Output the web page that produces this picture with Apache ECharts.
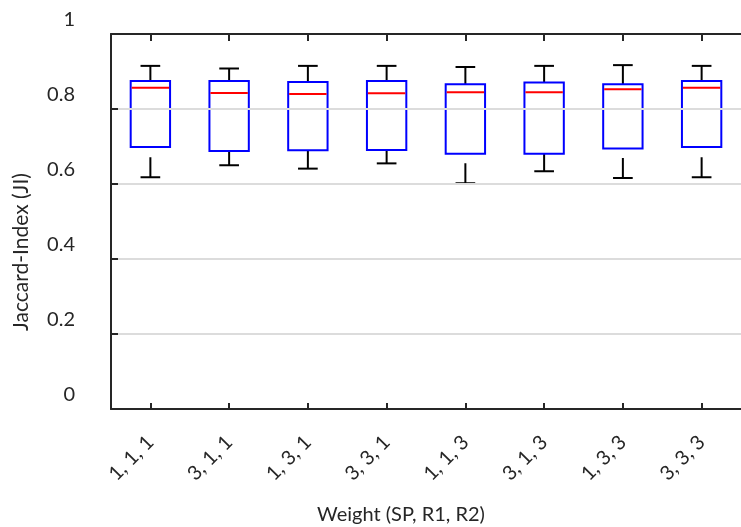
<!DOCTYPE html>
<html>
<head>
<meta charset="utf-8">
<script src="https://cdn.jsdelivr.net/npm/echarts@6/dist/echarts.min.js"></script>
<style>html,body{margin:0;padding:0;background:#fff}#c{width:741px;height:527px}</style>
</head>
<body>
<div id="c"></div>
<script>
var categories = ['1, 1, 1', '3, 1, 1', '1, 3, 1', '3, 3, 1', '1, 1, 3', '3, 1, 3', '1, 3, 3', '3, 3, 3'];
var whiskerHigh = [0.915, 0.908, 0.915, 0.915, 0.912, 0.915, 0.917, 0.915];
var q3 = [0.875, 0.875, 0.872, 0.875, 0.866, 0.871, 0.866, 0.875];
var median = [0.857, 0.843, 0.840, 0.842, 0.845, 0.845, 0.853, 0.857];
var q1 = [0.699, 0.688, 0.690, 0.691, 0.681, 0.681, 0.695, 0.699];
var whiskerLow = [0.618, 0.650, 0.641, 0.655, 0.602, 0.634, 0.616, 0.618];
var yTicks = [0, 0.2, 0.4, 0.6, 0.8, 1];
var xTitle = 'Weight (SP, R1, R2)';
var yTitle = 'Jaccard-Index (JI)';

var FONT = 'Lato, Carlito, "Open Sans", sans-serif';
var TXT = '#262626';
var data = categories.map(function (c, i) {
  return [i, whiskerLow[i], q1[i], median[i], q3[i], whiskerHigh[i]];
});

function renderItem(params, api) {
  var i = api.value(0);
  var band = api.size([1, 0])[0];
  var bw = band * 0.5, cw = band * 0.25;
  var pLo = api.coord([i, api.value(1)]);
  var pQ1 = api.coord([i, api.value(2)]);
  var pMed = api.coord([i, api.value(3)]);
  var pQ3 = api.coord([i, api.value(4)]);
  var pHi = api.coord([i, api.value(5)]);
  var x = pMed[0];
  var wStyle = { stroke: '#000', lineWidth: 2, lineDash: [20, 10], fill: null };
  var cStyle = { stroke: '#000', lineWidth: 2, fill: null };
  return {
    type: 'group',
    children: [
      { type: 'line', shape: { x1: x, y1: pHi[1], x2: x, y2: pQ3[1] }, style: wStyle },
      { type: 'line', shape: { x1: x, y1: pLo[1], x2: x, y2: pQ1[1] }, style: wStyle },
      { type: 'line', shape: { x1: x - cw / 2, y1: pHi[1], x2: x + cw / 2, y2: pHi[1] }, style: cStyle },
      { type: 'line', shape: { x1: x - cw / 2, y1: pLo[1], x2: x + cw / 2, y2: pLo[1] }, style: cStyle },
      { type: 'rect', shape: { x: x - bw / 2, y: pQ3[1], width: bw, height: pQ1[1] - pQ3[1] },
        style: { stroke: '#0000ff', lineWidth: 2, fill: null } },
      { type: 'line', shape: { x1: x - bw / 2 + 1, y1: pMed[1], x2: x + bw / 2 - 1, y2: pMed[1] },
        style: { stroke: '#ff0000', lineWidth: 2 } }
    ]
  };
}

var tickStyle = { color: TXT, width: 2 };
var chart = echarts.init(document.getElementById('c'), null, { renderer: 'canvas' });
chart.setOption({
  animation: false,
  backgroundColor: '#fff',
  grid: { left: 111, top: 34, width: 639, height: 375, containLabel: false },
  xAxis: [{
    type: 'category', data: categories, position: 'bottom', z: 5,
    axisLine: { show: true, onZero: false, lineStyle: { color: TXT, width: 2 } },
    axisTick: { show: true, inside: true, alignWithLabel: true, interval: 0, length: 6, lineStyle: tickStyle },
    axisLabel: { rotate: 45, margin: 30, color: TXT, fontFamily: FONT, fontSize: 20, interval: 0 },
    splitLine: { show: false }
  }, {
    type: 'category', data: categories, position: 'top', z: 5,
    axisLine: { show: true, onZero: false, lineStyle: { color: TXT, width: 2 } },
    axisTick: { show: true, inside: true, alignWithLabel: true, interval: 0, length: 7, lineStyle: tickStyle },
    axisLabel: { show: false },
    splitLine: { show: false }
  }],
  yAxis: {
    type: 'value', min: 0, max: 1, interval: 0.2, z: 5,
    axisLine: { show: true, lineStyle: { color: TXT, width: 2 } },
    axisTick: { show: true, inside: true, length: 7, lineStyle: tickStyle },
    axisLabel: {
      color: TXT, fontFamily: FONT, fontSize: 20, margin: 36,
      verticalAlign: 'bottom', lineHeight: 28,
      formatter: function (v) {
        for (var k = 0; k < yTicks.length; k++) if (Math.abs(yTicks[k] - v) < 1e-9) return String(yTicks[k]);
        return '';
      }
    },
    splitLine: { show: true, lineStyle: { color: '#dcdcdc', width: 2 } }
  },
  graphic: [
    { type: 'text', x: 401, y: 515, style: { text: xTitle, fill: TXT, font: '20px ' + FONT, textAlign: 'center', textVerticalAlign: 'middle' } },
    { type: 'text', x: 21, y: 252, rotation: Math.PI / 2, style: { text: yTitle, fill: TXT, font: '21px ' + FONT, textAlign: 'center', textVerticalAlign: 'middle' } }
  ],
  series: [{
    type: 'custom', renderItem: renderItem, data: data,
    encode: { x: 0, y: [1, 2, 3, 4, 5] }, clip: false, z: 3
  }]
});
</script>
</body>
</html>
